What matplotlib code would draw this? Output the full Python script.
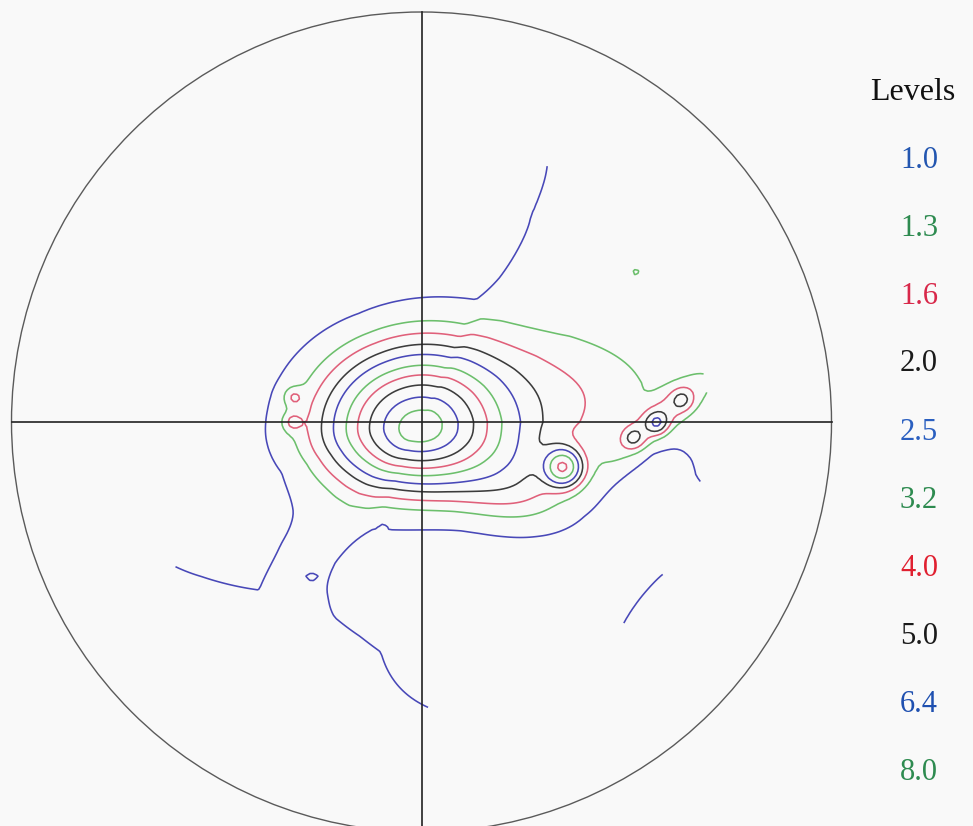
import numpy as np
import matplotlib
matplotlib.use("Agg")
import matplotlib.pyplot as plt
from matplotlib.patches import Circle

# Contour levels (multiples of a random distribution)
levels = [1.0, 1.3, 1.6, 2.0, 2.5, 3.2, 4.0, 5.0, 6.4, 8.0]
level_labels = ["1.0", "1.3", "1.6", "2.0", "2.5", "3.2", "4.0", "5.0", "6.4", "8.0"]

# Measured part of the pole figure (projected radius, 1 = rim)
measured_radius = 0.70

# Main density maximum: stretched-exponential peak with separate decay
# lengths towards left / right / top / bottom
main_x, main_y = -0.004, -0.015
main_height = 8.6
main_decay_left, main_decay_right = 0.151, 0.142
main_decay_up, main_decay_down = 0.126, 0.094
main_exponent = 1.5

# Additional Gaussian components: centre, spreads, tilt (deg), height
comp_x = [0.301, 0.216, 0.345, 0.574, 0.516, 0.574, 0.635, -0.313, -0.316, 0.523, -0.268, -0.094, 0.595]
comp_y = [0.050, -0.141, -0.110, 0.005, -0.039, -0.002, 0.054, 0.061, 0.000, 0.366, -0.378, -0.256, -0.473]
comp_sx = [0.195, 0.110, 0.029, 0.100, 0.017, 0.017, 0.017, 0.017, 0.017, 0.008, 0.007, 0.006, 0.090]
comp_sy = [0.110, 0.073, 0.029, 0.028, 0.017, 0.017, 0.017, 0.017, 0.017, 0.008, 0.0035, 0.006, 0.040]
comp_tilt = [0, -15, 0, 40, 0, 0, 0, 0, 0, 0, 0, 0, 51.5]
comp_height = [0.55, 0.75, 2.7, 0.65, 0.60, 0.95, 0.60, 0.45, 0.45, 0.30, -0.15, -0.08, 0.45]

# Background density by azimuth (deg) on three rings of the measured area
ring_radius = [0.40, 0.57, 0.70]
ring0_angle = [0, 30, 52, 60, 66, 120, 200, 215, 221, 229, 238, 246, 290, 330, 352, 357, 360]
ring0_level = [1.04, 1.08, 1.04, 1.00, 0.86, 0.80, 0.84, 0.95, 1.00, 1.04, 1.00, 0.90, 0.84, 0.84,
               0.95, 1.00, 1.04]
ring1_angle = [0, 5, 10, 30, 55, 62, 72, 120, 190, 215, 226, 242, 254, 260, 272, 300, 340, 352, 360]
ring1_level = [0.92, 1.00, 1.05, 1.10, 1.05, 1.00, 0.88, 0.80, 0.84, 0.96, 1.00, 1.05, 1.02, 1.00,
               0.92, 0.88, 0.84, 0.82, 0.90]
ring2_angle = [0, 30, 55, 64, 75, 120, 170, 200, 210, 225, 260, 272, 285, 316, 327, 340, 349, 355, 360]
ring2_level = [1.06, 1.10, 1.05, 1.00, 0.90, 0.82, 0.85, 0.95, 1.00, 1.06, 1.04, 1.00, 0.93, 0.93,
               0.93, 0.90, 1.00, 1.01, 1.06]

line_colors = ["#4848b8", "#6cbf6c", "#e0607a", "#3c3c3c"] * 3
text_colors = ["#2356b0", "#2e8b50", "#d8284a", "#1a1a1a", "#2a5fc0",
               "#2e8b50", "#e02030", "#1a1a1a", "#1f50b0", "#2e8b50"]

# ---- density field -------------------------------------------------------
n = 181
g = np.linspace(-0.72, 0.72, n)
X, Y = np.meshgrid(g, g)
R = np.hypot(X, Y)
theta = np.degrees(np.arctan2(Y, X)) % 360

rings = [np.interp(theta, a, v) for a, v in
         ((ring0_angle, ring0_level), (ring1_angle, ring1_level), (ring2_angle, ring2_level))]
r_clamped = np.clip(R, ring_radius[0], ring_radius[-1])
density = np.where(
    r_clamped <= ring_radius[1],
    rings[0] + (rings[1] - rings[0]) * (r_clamped - ring_radius[0]) / (ring_radius[1] - ring_radius[0]),
    rings[1] + (rings[2] - rings[1]) * (r_clamped - ring_radius[1]) / (ring_radius[2] - ring_radius[1]),
)

dx = X - main_x
dy = Y - main_y
sx = np.where(dx < 0, main_decay_left, main_decay_right)
sy = np.where(dy < 0, main_decay_down, main_decay_up)
d = np.hypot(dx / sx, dy / sy)
density = density + main_height * np.exp(-d ** main_exponent)

for cx, cy, ax_, ay_, tilt, h in zip(comp_x, comp_y, comp_sx, comp_sy, comp_tilt, comp_height):
    a = np.radians(tilt)
    u = (X - cx) * np.cos(a) + (Y - cy) * np.sin(a)
    v = -(X - cx) * np.sin(a) + (Y - cy) * np.cos(a)
    density = density + h * np.exp(-0.5 * ((u / ax_) ** 2 + (v / ay_) ** 2))

density = np.ma.masked_where(R > measured_radius, density)

# ---- figure --------------------------------------------------------------
W, H = 973, 826
fig = plt.figure(figsize=(W / 100, H / 100), dpi=100)
fig.patch.set_facecolor("#f9f9f9")
cx_px, cy_px, rad_px = 421.5, 422.0, 410.0
ax = fig.add_axes([(cx_px - rad_px) / W, (H - cy_px - rad_px) / H, 2 * rad_px / W, 2 * rad_px / H])
ax.set_xlim(-1, 1)
ax.set_ylim(-1, 1)
ax.set_axis_off()
ax.set_facecolor("none")

ax.contour(X, Y, density, levels=levels, colors=line_colors, linewidths=1.15)

ax.add_patch(Circle((0, 0), 1.0, fill=False, ec="#5a5a5a", lw=1.0, clip_on=False))
ax.plot([-1, 1], [0, 0], color="#222222", lw=1.2, clip_on=False)
ax.plot([0, 0], [-1, 1], color="#222222", lw=1.2, clip_on=False)

serif = ["Liberation Serif", "DejaVu Serif"]
fig.text(913 / W, 1 - 92 / H, "Levels", ha="center", va="center",
         fontsize=23, family=serif, color="#111111")
y_first, y_last = 160, 772
for i, (lab, col) in enumerate(zip(level_labels, text_colors)):
    yy = y_first + (y_last - y_first) * i / (len(level_labels) - 1)
    fig.text(919 / W, 1 - yy / H, lab, ha="center", va="center",
             fontsize=22, family=serif, color=col)

fig.savefig("out.png", dpi=100, facecolor=fig.get_facecolor())
